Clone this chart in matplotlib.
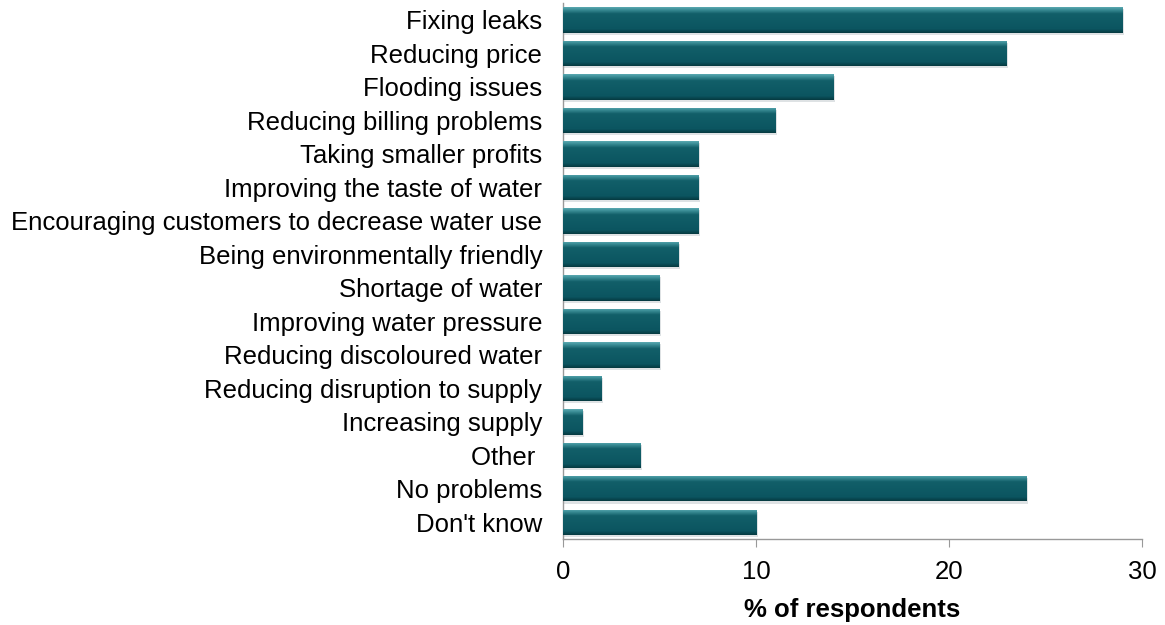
import numpy as np
import matplotlib
matplotlib.use("Agg")
import matplotlib.pyplot as plt
from matplotlib.colors import LinearSegmentedColormap

plt.rcParams['font.family'] = ['Liberation Sans', 'DejaVu Sans']

categories = ["Fixing leaks", "Reducing price", "Flooding issues",
              "Reducing billing problems", "Taking smaller profits",
              "Improving the taste of water",
              "Encouraging customers to decrease water use",
              "Being environmentally friendly", "Shortage of water",
              "Improving water pressure", "Reducing discoloured water",
              "Reducing disruption to supply", "Increasing supply",
              "Other ", "No problems", "Don't know"]
values = [29, 23, 14, 11, 7, 7, 7, 6, 5, 5, 5, 2, 1, 4, 24, 10]
xticks = [0, 10, 20, 30]

fig = plt.figure(figsize=(11.65, 6.25), dpi=100)
ax = fig.add_axes([0.4833, 0.1376, 0.497, 0.8574])

ypos = np.arange(len(categories))[::-1]
h = 0.76

# bevelled teal bars: vertical shading clipped to each bar
shade = LinearSegmentedColormap.from_list(
    "bevel", [(0.0, "#5aa8b0"), (0.1, "#3a8c95"), (0.25, "#125f69"),
              (0.85, "#0b5560"), (1.0, "#063a41")])
grad = np.linspace(0, 1, 64).reshape(-1, 1)

bars = ax.barh(ypos, values, height=h, color="#0b5560", edgecolor="none", zorder=2)
for b in bars:
    x0, y0 = b.get_x(), b.get_y()
    w, hh = b.get_width(), b.get_height()
    im = ax.imshow(grad, cmap=shade, aspect="auto", origin="upper",
                   extent=(x0, x0 + w, y0, y0 + hh), zorder=3)
    im.set_clip_path(b)
    # light shadow under each bar
    ax.barh(y0 + hh / 2 - 0.07, w + 0.08, height=hh, left=x0,
            color="#c8d0d2", edgecolor="none", zorder=1, alpha=0.6)

ax.set_xlim(0, 30)
ax.set_ylim(-0.5, len(categories) - 0.5)
ax.set_yticks(ypos)
ax.set_yticklabels(categories, fontsize=18.5)
ax.set_xticks(xticks)
ax.set_xticklabels([str(t) for t in xticks], fontsize=18.5)
ax.tick_params(axis="y", length=0, pad=15)
ax.tick_params(axis="x", length=6, color="#999999", pad=9)
ax.set_xlabel("% of respondents", fontsize=18.5, fontweight="bold", labelpad=10)

for s in ["top", "right"]:
    ax.spines[s].set_visible(False)
for s in ["left", "bottom"]:
    ax.spines[s].set_color("#999999")
    ax.spines[s].set_linewidth(1.0)

fig.savefig("out.png", dpi=100)
